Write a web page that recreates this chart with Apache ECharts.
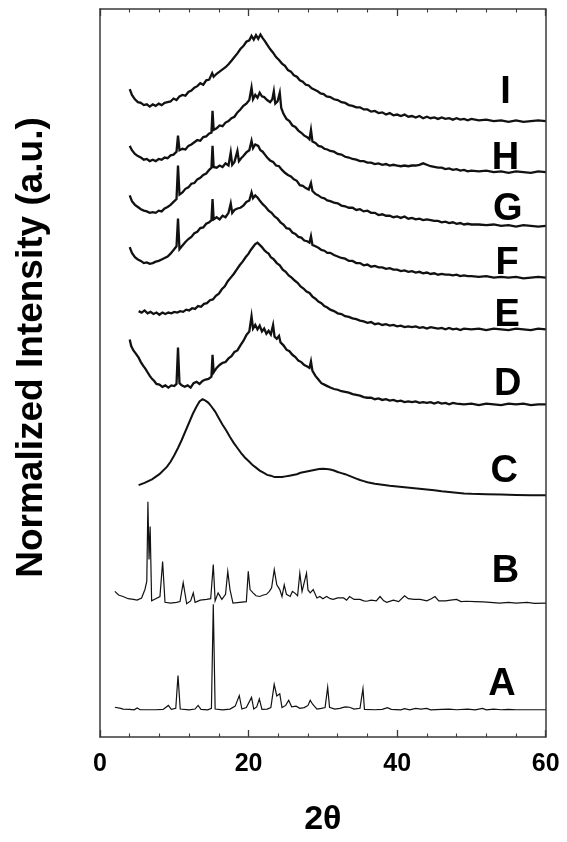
<!DOCTYPE html>
<html>
<head>
<meta charset="utf-8">
<title>Normalized XRD patterns A–I</title>
<script src="https://cdn.jsdelivr.net/npm/echarts@6/dist/echarts.min.js"></script>
<style>
  html, body { margin: 0; padding: 0; background: #fff; }
  #chart { width: 567px; height: 842px; }
</style>
</head>
<body>
<div id="chart"></div>
<script>
// Pattern names, bottom to top
const patternNames = ['A', 'B', 'C', 'D', 'E', 'F', 'G', 'H', 'I'];

// Vertical stacking offset of each pattern (normalized intensity units)
const stackOffsets = [3.74, 18.4, 33.2, 45.7, 56.0, 63.1, 70.2, 77.6, 84.6];

// x-axis tick labels (2θ, degrees)
const xTicks = [0, 20, 40, 60];

// Each pattern: [2θ, intensity above its own baseline]
const patternA = [[2.0,0.35],[2.8,0.2],[3.1,0.1],[4.0,0.05],[4.6,0.0],[5.0,0.25],[5.4,0.0],[6.5,0.0],[7.5,0.0],[8.5,0.05],[9.2,0.6],[9.6,0.05],[10.2,0.2],[10.5,4.7],[10.8,0.1],[12.0,0.0],[12.8,0.1],[13.2,0.6],[13.6,0.05],[14.5,0.0],[15.0,0.2],[15.25,14.5],[15.5,0.1],[16.5,0.0],[17.5,0.1],[18.2,0.5],[18.75,1.95],[19.1,0.1],[19.7,0.3],[20.4,1.7],[20.7,0.1],[21.1,0.4],[21.45,1.5],[21.8,0.05],[22.5,0.1],[23.0,0.3],[23.45,3.5],[23.8,1.9],[24.2,2.2],[24.5,0.3],[25.0,0.6],[25.4,1.3],[25.8,0.4],[26.4,0.5],[26.9,0.2],[27.5,0.3],[28.0,0.6],[28.3,1.3],[28.6,0.8],[29.2,0.1],[29.8,0.2],[30.3,0.3],[30.65,3.1],[30.9,0.35],[31.6,0.1],[32.3,0.2],[33.0,0.4],[33.6,0.35],[34.2,0.1],[35.0,0.2],[35.4,2.9],[35.6,0.05],[37.0,0.0],[38.0,0.05],[38.7,0.3],[39.2,0.05],[40.5,0.0],[41.0,0.15],[41.7,0.0],[42.5,0.2],[43.2,0.1],[44.0,0.2],[44.5,0.0],[46.0,0.05],[47.0,0.1],[48.0,0.0],[49.5,0.1],[50.5,0.0],[51.5,0.2],[52.0,0.0],[53.0,0.1],[54.0,0.0],[55.0,0.05],[56.0,0.0],[60.0,0.0]];

const patternB = [[2.0,1.6],[2.5,1.1],[3.1,0.9],[3.8,0.6],[4.5,0.5],[5.0,0.4],[5.6,0.7],[6.06,1.9],[6.3,3.0],[6.45,13.9],[6.6,6.0],[6.75,10.5],[6.95,0.3],[7.5,0.6],[8.07,0.9],[8.43,5.7],[8.75,0.1],[9.5,0.0],[10.3,0.1],[10.77,0.2],[11.2,2.8],[11.67,-0.1],[12.2,0.3],[12.56,1.4],[12.8,0.1],[13.5,0.4],[14.36,0.5],[14.9,0.6],[15.25,5.3],[15.5,0.3],[15.9,1.4],[16.4,0.5],[16.9,1.2],[17.2,4.35],[17.5,1.85],[17.9,0.0],[18.8,0.1],[19.7,0.2],[19.96,4.35],[20.2,1.85],[20.6,1.4],[21.0,1.0],[21.5,0.9],[22.0,1.1],[22.4,1.2],[22.8,1.6],[23.1,2.1],[23.46,4.6],[23.8,2.5],[24.2,1.85],[24.5,0.9],[24.8,2.5],[25.1,1.2],[25.6,0.9],[25.9,1.6],[26.2,1.4],[26.6,1.0],[26.9,4.1],[27.2,1.6],[27.4,1.4],[27.8,4.1],[28.0,1.8],[28.3,1.4],[28.7,1.85],[29.2,0.7],[29.6,0.9],[30.0,0.6],[30.5,0.9],[31.0,0.6],[31.4,0.5],[32.0,0.7],[32.8,0.7],[33.2,0.4],[33.6,0.9],[34.2,0.5],[35.0,0.5],[35.5,0.3],[35.9,0.25],[36.5,0.4],[37.2,0.3],[37.7,0.9],[38.2,0.3],[38.6,0.1],[39.5,0.4],[40.2,0.2],[41.0,1.0],[41.5,0.6],[42.3,0.5],[43.1,0.5],[44.0,0.3],[44.6,0.6],[45.1,0.9],[45.6,0.3],[46.5,0.3],[47.2,0.4],[48.0,0.5],[48.6,0.2],[49.3,0.25],[50.5,0.2],[51.6,0.15],[52.5,0.1],[53.8,0.0],[55,0.1],[56.0,0.0],[57.5,0.1],[58.5,-0.05],[60.0,0.0]];

const patternC = [[5.2,1.4],[6.0,1.7],[7.0,2.2],[8.0,2.9],[9.0,3.9],[9.5,4.6],[10.0,5.5],[10.5,6.5],[11.0,7.6],[11.5,8.8],[12.0,10.0],[12.5,11.2],[13.0,12.2],[13.4,12.9],[13.8,13.2],[14.2,13.0],[14.6,12.7],[15.0,12.2],[15.5,11.5],[16.0,10.6],[16.5,9.7],[17.0,8.9],[17.5,8.0],[18.0,7.2],[18.5,6.5],[19.0,5.8],[19.5,5.2],[20.0,4.7],[20.5,4.2],[21.0,3.8],[21.5,3.4],[22.0,3.1],[22.5,2.8],[23.0,2.7],[23.5,2.5],[24.0,2.5],[24.5,2.5],[25.0,2.6],[25.5,2.7],[26.0,2.8],[26.5,2.9],[27.0,3.1],[27.5,3.2],[28.0,3.3],[28.5,3.4],[29.0,3.5],[29.5,3.6],[30.0,3.65],[30.5,3.6],[31.0,3.55],[31.5,3.4],[32.0,3.2],[32.5,3.05],[33.0,2.9],[33.5,2.7],[34.0,2.5],[34.5,2.3],[35.0,2.1],[35.5,1.95],[36.0,1.8],[37.0,1.6],[38.0,1.45],[39.0,1.3],[40.0,1.2],[41.0,1.1],[42.0,1.0],[43.0,0.9],[44.0,0.8],[45.0,0.7],[46.0,0.55],[47.0,0.45],[48.0,0.35],[49.0,0.25],[50.0,0.2],[52.0,0.15],[54.0,0.1],[56.0,0.05],[58.0,0.0],[60.0,0.0]];

const patternD = [[4.0,8.9],[4.2,8.0],[4.5,7.4],[4.8,7.0],[5.2,6.4],[5.5,5.8],[5.8,5.3],[6.1,4.9],[6.4,4.4],[6.7,3.9],[7.0,3.5],[7.3,3.2],[7.6,2.8],[8.0,2.7],[8.4,2.4],[8.8,2.6],[9.2,2.3],[9.6,2.6],[10.0,2.5],[10.3,2.8],[10.5,7.8],[10.7,2.9],[11.0,2.6],[11.4,2.4],[11.8,2.6],[12.2,2.3],[12.6,2.9],[13.0,3.1],[13.4,2.8],[13.8,3.2],[14.2,3.4],[14.6,3.5],[15.0,3.8],[15.15,6.8],[15.3,4.4],[15.7,5.0],[16.1,5.4],[16.5,5.7],[16.9,5.8],[17.3,6.3],[17.7,6.6],[18.1,7.2],[18.5,7.4],[18.9,8.1],[19.3,8.7],[19.7,9.5],[20.1,10.0],[20.4,12.1],[20.6,10.4],[20.9,10.9],[21.2,10.3],[21.5,10.8],[21.8,10.0],[22.1,10.4],[22.4,9.7],[22.7,10.1],[23.0,9.6],[23.3,10.9],[23.5,9.3],[23.8,9.0],[24.1,9.4],[24.3,8.5],[24.7,8.1],[25.1,7.5],[25.5,7.3],[25.9,6.8],[26.3,6.5],[26.7,6.0],[27.1,5.8],[27.5,5.4],[27.9,5.2],[28.2,5.0],[28.4,5.9],[28.6,4.6],[29.0,3.9],[29.4,3.4],[29.8,2.9],[30.2,2.7],[30.6,2.5],[31.0,2.3],[31.5,2.1],[32.0,2.0],[32.5,1.8],[33.0,1.7],[33.5,1.6],[34.0,1.4],[34.5,1.3],[35.0,1.2],[35.5,1.0],[36.0,0.9],[36.5,0.9],[37.0,0.7],[37.5,0.8],[38.0,0.6],[38.5,0.7],[39.0,0.5],[39.5,0.6],[40.0,0.4],[40.5,0.5],[41.0,0.3],[41.5,0.4],[42.0,0.3],[42.5,0.4],[43.0,0.2],[43.5,0.3],[44.0,0.2],[44.5,0.3],[45.0,0.1],[45.5,0.3],[46.0,0.1],[46.5,0.2],[47.0,0.0],[47.5,0.2],[48.0,0.1],[49.0,0.0],[50,0.1],[51,-0.1],[52,0.1],[53,0.0],[54,-0.1],[55,0.1],[56,0.0],[57,0.1],[58,-0.1],[59,0.0],[60,0.0]];

const patternE = [[5.2,2.5],[5.6,2.3],[6.0,2.6],[6.4,2.2],[6.8,2.4],[7.2,2.1],[7.6,2.3],[8.0,2.0],[8.4,2.3],[8.8,2.1],[9.2,2.3],[9.6,2.2],[10.0,2.4],[10.4,2.3],[10.8,2.5],[11.2,2.4],[11.6,2.7],[12.0,2.6],[12.4,2.9],[12.8,2.8],[13.2,3.2],[13.6,3.1],[14.0,3.5],[14.4,3.6],[14.8,4.0],[15.2,4.1],[15.6,4.6],[16.0,4.9],[16.4,5.5],[16.8,5.9],[17.2,6.6],[17.6,7.1],[18.0,7.6],[18.4,8.2],[18.8,8.8],[19.2,9.3],[19.6,9.9],[20.0,10.4],[20.3,10.9],[20.6,11.3],[20.9,11.7],[21.2,11.9],[21.5,11.6],[21.8,11.3],[22.1,10.9],[22.4,10.6],[22.7,10.4],[23.0,9.9],[23.4,9.6],[23.8,9.1],[24.2,8.8],[24.6,8.2],[25.0,7.9],[25.4,7.4],[25.8,7.1],[26.2,6.7],[26.6,6.4],[27.0,5.9],[27.4,5.6],[27.8,5.2],[28.2,5.0],[28.6,4.5],[29.0,4.2],[29.4,3.8],[29.8,3.6],[30.2,3.2],[30.6,3.0],[31.0,2.7],[31.5,2.5],[32.0,2.2],[32.5,2.1],[33.0,1.8],[33.5,1.7],[34.0,1.5],[34.5,1.4],[35.0,1.2],[35.5,1.1],[36.0,0.9],[36.5,1.0],[37.0,0.7],[37.5,0.8],[38.0,0.6],[38.5,0.7],[39.0,0.5],[39.5,0.6],[40.0,0.4],[40.5,0.5],[41.0,0.3],[41.5,0.4],[42.0,0.3],[42.5,0.4],[43.0,0.2],[43.5,0.3],[44.0,0.1],[44.5,0.3],[45.0,0.2],[45.5,0.1],[46.0,0.2],[46.5,0.0],[47.0,0.2],[47.5,0.0],[48.0,0.1],[48.5,-0.1],[49.0,0.1],[50,0.0],[51,0.1],[52,-0.1],[53,0.1],[54,0.0],[55,-0.1],[56,0.1],[57,0.0],[58,-0.1],[59,0.1],[60,0.0]];

const patternF = [[4.0,4.2],[4.3,3.4],[4.7,2.8],[5.1,2.5],[5.5,2.3],[5.9,2.0],[6.3,2.1],[6.7,1.9],[7.1,2.0],[7.5,2.2],[7.9,2.3],[8.3,2.5],[8.7,2.7],[9.1,2.9],[9.5,3.3],[9.9,3.8],[10.3,4.3],[10.5,8.1],[10.7,3.9],[11.1,4.4],[11.5,4.9],[11.9,5.3],[12.3,5.6],[12.7,6.1],[13.1,6.3],[13.5,6.8],[13.9,6.9],[14.3,7.4],[14.7,7.6],[15.0,7.9],[15.15,10.8],[15.3,8.0],[15.7,8.3],[16.1,8.0],[16.5,8.5],[16.9,8.3],[17.3,8.9],[17.6,10.2],[17.8,8.9],[18.1,9.3],[18.5,9.5],[18.9,9.6],[19.3,9.9],[19.7,10.4],[20.1,10.6],[20.4,11.7],[20.6,10.9],[20.9,11.3],[21.2,11.0],[21.5,10.6],[21.9,10.1],[22.3,9.7],[22.7,9.2],[23.1,8.9],[23.5,8.4],[23.9,8.1],[24.3,7.6],[24.7,7.3],[25.1,6.8],[25.5,6.7],[25.9,6.2],[26.3,6.0],[26.7,5.6],[27.1,5.5],[27.5,5.1],[27.9,5.0],[28.2,4.8],[28.4,5.7],[28.6,4.5],[29.0,4.3],[29.4,4.1],[29.8,3.8],[30.2,3.7],[30.6,3.4],[31.0,3.4],[31.5,3.1],[32.0,2.9],[32.5,2.7],[33.0,2.6],[33.5,2.3],[34.0,2.3],[34.5,2.0],[35.0,2.0],[35.5,1.7],[36.0,1.8],[36.5,1.5],[37.0,1.6],[37.5,1.4],[38.0,1.4],[38.5,1.2],[39.0,1.3],[39.5,1.1],[40.0,1.1],[40.5,0.9],[41.0,1.0],[41.5,0.8],[42.0,0.9],[42.5,0.7],[43.0,0.8],[43.5,0.6],[44.0,0.7],[44.5,0.5],[45.0,0.6],[45.5,0.4],[46.0,0.5],[46.5,0.4],[47.0,0.4],[47.5,0.3],[48.0,0.4],[48.5,0.2],[49.0,0.3],[49.5,0.2],[50,0.2],[51,0.1],[52,0.2],[53,0.0],[54,0.1],[55,0.0],[56,0.1],[57,-0.1],[58,0.0],[59,0.1],[60,0.0]];

const patternG = [[4.0,4.2],[4.3,3.4],[4.7,2.9],[5.1,2.6],[5.5,2.3],[5.9,2.1],[6.3,2.0],[6.7,1.8],[7.1,1.9],[7.5,1.8],[7.9,2.1],[8.3,2.0],[8.7,2.4],[9.1,2.6],[9.5,2.9],[9.9,3.3],[10.3,3.7],[10.5,8.3],[10.7,4.3],[11.1,4.6],[11.5,5.1],[11.9,5.3],[12.3,5.8],[12.7,5.9],[13.1,6.4],[13.5,6.6],[13.9,7.0],[14.3,7.2],[14.7,7.7],[15.0,8.0],[15.15,11.0],[15.3,8.1],[15.7,8.0],[16.1,8.3],[16.5,8.1],[16.9,8.6],[17.3,8.3],[17.6,10.1],[17.8,8.4],[18.1,8.8],[18.5,10.3],[18.7,8.9],[19.0,9.3],[19.3,9.6],[19.7,10.1],[20.1,10.4],[20.4,11.7],[20.6,10.7],[20.9,11.2],[21.3,11.0],[21.6,10.4],[21.9,10.2],[22.2,9.8],[22.5,9.4],[22.9,9.0],[23.3,8.8],[23.7,8.3],[24.1,8.2],[24.5,7.7],[24.9,7.3],[25.3,7.0],[25.7,6.8],[26.1,6.4],[26.5,6.2],[26.9,5.6],[27.3,5.5],[27.7,5.2],[28.1,5.0],[28.4,5.9],[28.6,4.8],[29.0,4.4],[29.4,4.2],[29.8,3.9],[30.2,3.8],[30.6,3.5],[31.0,3.4],[31.5,3.2],[32.0,3.1],[32.5,2.8],[33.0,2.7],[33.5,2.5],[34.0,2.5],[34.5,2.2],[35.0,2.3],[35.5,2.0],[36.0,2.1],[36.5,1.8],[37.0,1.8],[37.5,1.5],[38.0,1.6],[38.5,1.4],[39.0,1.4],[39.5,1.2],[40.0,1.3],[40.5,1.1],[41.0,1.3],[41.5,1.0],[42.0,1.1],[42.5,0.9],[43.0,1.0],[43.5,0.8],[44.0,0.9],[44.5,0.8],[45.0,0.7],[45.5,0.7],[46.0,0.5],[46.5,0.6],[47.0,0.4],[47.5,0.5],[48.0,0.3],[48.5,0.4],[49.0,0.2],[49.5,0.3],[50,0.2],[51,0.2],[52,0.1],[53,0.2],[54,0.0],[55,0.1],[56,-0.1],[57,0.1],[58,0.0],[59,-0.1],[60,0.0]];

const patternH = [[4.0,3.6],[4.3,3.0],[4.7,2.5],[5.1,2.2],[5.5,2.0],[5.9,1.7],[6.3,1.8],[6.7,1.5],[7.1,1.7],[7.5,1.5],[7.9,1.8],[8.3,1.7],[8.7,2.0],[9.1,1.9],[9.5,2.3],[9.9,2.4],[10.3,2.8],[10.5,5.0],[10.7,3.0],[11.1,3.2],[11.5,3.1],[11.9,3.6],[12.3,3.8],[12.7,4.1],[13.1,4.4],[13.5,4.3],[13.9,4.8],[14.3,4.9],[14.7,5.3],[15.0,5.4],[15.15,8.4],[15.3,5.8],[15.7,6.0],[16.1,6.4],[16.5,6.3],[16.9,6.8],[17.3,7.0],[17.7,7.4],[18.1,7.6],[18.5,8.2],[18.9,8.6],[19.3,9.1],[19.7,9.4],[20.1,9.9],[20.4,11.6],[20.6,10.0],[20.9,10.6],[21.2,10.2],[21.5,10.9],[21.8,10.4],[22.1,10.3],[22.5,9.9],[22.9,9.6],[23.2,10.0],[23.4,11.1],[23.6,9.4],[23.9,9.7],[24.2,10.9],[24.4,8.8],[24.7,8.0],[25.1,7.3],[25.5,7.0],[25.9,6.4],[26.3,6.2],[26.7,5.7],[27.1,5.4],[27.5,5.0],[27.9,4.8],[28.2,4.5],[28.4,5.8],[28.6,4.2],[29.0,4.0],[29.4,3.6],[29.8,3.5],[30.2,3.2],[30.6,3.1],[31.0,2.9],[31.5,2.8],[32.0,2.5],[32.5,2.4],[33.0,2.1],[33.5,2.0],[34.0,1.8],[34.5,1.7],[35.0,1.5],[35.5,1.5],[36.0,1.3],[36.5,1.3],[37.0,1.1],[37.5,1.2],[38.0,1.0],[38.5,1.1],[39.0,0.9],[39.5,1.0],[40.0,0.9],[40.5,0.8],[41.0,0.9],[41.5,0.8],[42.0,0.9],[42.5,0.9],[43.0,1.0],[43.5,1.2],[44.0,1.0],[44.5,0.8],[45.0,0.7],[45.5,0.6],[46.0,0.6],[46.5,0.4],[47.0,0.5],[47.5,0.3],[48.0,0.4],[48.5,0.2],[49.0,0.3],[49.5,0.1],[50.0,0.2],[51,0.1],[52,0.2],[53,0.0],[54,0.1],[55,-0.1],[56,0.1],[57,0.0],[58,-0.1],[59,0.1],[60,0.0]];

const patternI = [[4.0,4.4],[4.3,3.6],[4.7,3.0],[5.1,2.6],[5.5,2.5],[5.9,2.2],[6.3,2.3],[6.7,2.0],[7.1,2.3],[7.5,2.1],[7.9,2.4],[8.3,2.2],[8.7,2.5],[9.1,2.6],[9.5,2.7],[9.9,3.1],[10.3,2.9],[10.7,3.4],[11.1,3.6],[11.5,3.5],[11.9,4.0],[12.3,4.2],[12.7,4.6],[13.1,4.8],[13.5,5.2],[13.9,5.0],[14.3,5.6],[14.7,5.7],[15.1,6.6],[15.3,6.1],[15.7,6.5],[16.1,6.8],[16.5,7.1],[16.9,7.4],[17.3,7.8],[17.7,8.3],[18.1,8.8],[18.5,9.3],[18.9,9.9],[19.3,10.3],[19.7,10.9],[20.1,11.1],[20.4,11.7],[20.7,11.2],[21.0,11.8],[21.3,11.3],[21.6,11.9],[21.9,11.4],[22.2,11.0],[22.5,10.5],[22.9,9.9],[23.3,9.4],[23.7,8.8],[24.1,8.4],[24.5,7.9],[24.9,7.6],[25.3,7.0],[25.7,6.8],[26.1,6.3],[26.5,6.1],[26.9,5.6],[27.3,5.4],[27.7,5.0],[28.1,4.9],[28.5,4.5],[28.9,4.3],[29.3,4.1],[29.7,3.8],[30.1,3.7],[30.5,3.4],[31.0,3.3],[31.5,3.0],[32.0,2.9],[32.5,2.6],[33.0,2.5],[33.5,2.2],[34.0,2.1],[34.5,1.9],[35.0,1.9],[35.5,1.6],[36.0,1.6],[36.5,1.3],[37.0,1.4],[37.5,1.1],[38.0,1.2],[38.5,0.9],[39.0,1.1],[39.5,0.8],[40.0,0.9],[40.5,0.7],[41.0,0.9],[41.5,0.6],[42.0,0.7],[42.5,0.5],[43.0,0.7],[43.5,0.4],[44.0,0.6],[44.5,0.4],[45.0,0.5],[45.5,0.3],[46.0,0.5],[46.5,0.3],[47.0,0.4],[47.5,0.2],[48.0,0.4],[48.5,0.2],[49.0,0.3],[49.5,0.1],[50.0,0.3],[51,0.1],[52,0.2],[53,0.0],[54,0.1],[55,-0.1],[56,0.1],[57,-0.1],[58,0.0],[59,0.1],[60,0.0]];

const patterns = [patternA, patternB, patternC, patternD, patternE, patternF, patternG, patternH, patternI];

// Where each pattern's letter sits, in axis units [2θ, stacked intensity]
const letterAnchors = [[54.1, 7.2], [54.6, 22.7], [54.4, 36.4], [54.9, 48.4], [54.8, 57.95], [54.8, 65.1], [54.9, 72.4], [54.6, 79.5], [54.6, 88.5]];

const FONT = '"Liberation Sans", Arial, Helvetica, sans-serif';
const INK = '#111';
const FRAME = '#3a3a3a';

// Crystalline patterns (A, B) are drawn thinner than the broad amorphous ones
const lineWidths = [1.2, 1.2, 2.0, 2.3, 2.3, 2.3, 2.3, 2.3, 2.3];

const chart = echarts.init(document.getElementById('chart'), null, { renderer: 'canvas' });

const traceSeries = patterns.map((pts, i) => ({
  name: patternNames[i],
  type: 'line',
  xAxisIndex: 0,
  yAxisIndex: 0,
  showSymbol: false,
  symbol: 'none',
  silent: true,
  z: 3,
  lineStyle: { color: INK, width: lineWidths[i], join: 'miter' },
  data: pts.map(([tt, r]) => [tt, r + stackOffsets[i]])
}));

const letterSeries = {
  name: 'letters',
  type: 'scatter',
  xAxisIndex: 0,
  yAxisIndex: 0,
  symbolSize: 1,
  itemStyle: { color: 'rgba(0,0,0,0)', opacity: 1 },
  silent: true,
  z: 4,
  label: {
    show: true,
    position: 'inside',
    formatter: p => patternNames[p.dataIndex],
    fontFamily: FONT,
    fontWeight: 'bold',
    fontSize: 38,
    color: '#000',
    opacity: 1,
    align: 'center',
    verticalAlign: 'middle'
  },
  data: letterAnchors
};

const tickStyle = {
  show: true,
  inside: true,
  length: 7,
  lineStyle: { color: FRAME, width: 1.3 }
};
const minorStyle = {
  show: true,
  splitNumber: 5,
  length: 3.5,
  lineStyle: { color: FRAME, width: 1.1 }
};

chart.setOption({
  animation: false,
  backgroundColor: '#fff',
  grid: { left: 100, right: 21.3, top: 9, bottom: 100.3, containLabel: false },
  xAxis: [
    {
      type: 'value', position: 'bottom', min: 0, max: 60, interval: 20,
      axisLine: { show: true, onZero: false, lineStyle: { color: FRAME, width: 1.5 } },
      axisTick: tickStyle,
      minorTick: minorStyle,
      splitLine: { show: false },
      axisLabel: {
        show: true, margin: 15, fontFamily: FONT, fontWeight: 'bold', fontSize: 25, color: '#000',
        formatter: v => (xTicks.indexOf(v) >= 0 ? String(v) : '')
      },
      name: '2θ',
      nameLocation: 'middle',
      nameGap: 66,
      nameTextStyle: { fontFamily: FONT, fontWeight: 'bold', fontSize: 34, color: '#000' }
    },
    {
      type: 'value', position: 'top', min: 0, max: 60, interval: 20,
      axisLine: { show: true, onZero: false, lineStyle: { color: FRAME, width: 1.5 } },
      axisTick: tickStyle,
      minorTick: minorStyle,
      splitLine: { show: false },
      axisLabel: { show: false }
    }
  ],
  yAxis: [
    {
      type: 'value', position: 'left', min: 0, max: 100,
      axisLine: { show: true, onZero: false, lineStyle: { color: FRAME, width: 1.5 } },
      axisTick: { show: false }, axisLabel: { show: false }, splitLine: { show: false }
    },
    {
      type: 'value', position: 'right', min: 0, max: 100,
      axisLine: { show: true, onZero: false, lineStyle: { color: FRAME, width: 1.5 } },
      axisTick: { show: false }, axisLabel: { show: false }, splitLine: { show: false }
    }
  ],
  graphic: [
    {
      type: 'text',
      x: 32, y: 347.5,
      rotation: Math.PI / 2,
      style: {
        text: 'Normalized Intensity (a.u.)',
        font: 'bold 37px ' + FONT,
        fill: '#000',
        textAlign: 'center',
        textVerticalAlign: 'middle'
      }
    }
  ],
  series: traceSeries.concat([letterSeries])
});
</script>
</body>
</html>
